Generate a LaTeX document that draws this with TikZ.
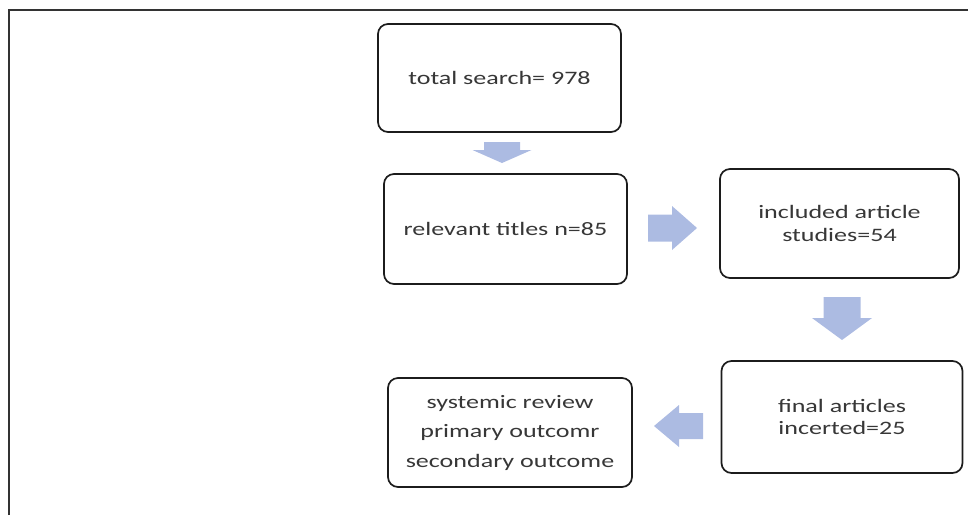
\documentclass[tikz,border=0pt]{standalone}
\usepackage{fontspec}
\setmainfont{Carlito}[FakeStretch=1.37]
\usetikzlibrary{calc}
\definecolor{arrowblue}{RGB}{172,187,226}
\definecolor{boxline}{RGB}{28,28,28}
\definecolor{txt}{RGB}{55,55,55}
\tikzset{
  stepbox/.style={draw=boxline, line width=1.7pt, rounded corners=10pt, fill=white,
    align=center, inner sep=2pt, outer sep=0pt, text=txt,
    font=\fontsize{19}{22.5}\selectfont},
  blockarrow/.style={fill=arrowblue, draw=none},
  frameline/.style={draw=black!80, line width=2pt}
}
\begin{document}
\begin{tikzpicture}[x=1pt, y=-1pt]
\useasboundingbox (0,0) rectangle (968,515);
\draw[frameline] (9,515) -- (9,10) -- (968,10);

\node[stepbox, minimum width=243pt, minimum height=108pt] (n1) at (499.5,78) {total search= 978};
\node[stepbox, minimum width=243pt, minimum height=110pt] (n2) at (505.5,229) {relevant titles n=85};
\node[stepbox, minimum width=239pt, minimum height=109pt] (n3) at (839.5,223.5) {included article\\studies=54};
\node[stepbox, minimum width=241pt, minimum height=112pt] (n4) at (842,417) {final articles\\incerted=25};
\node[stepbox, minimum width=244pt, minimum height=109pt] (n5) at (510,432.5) {systemic review\\[7pt]primary outcomr\\[7pt]secondary outcome};

% block arrows
\coordinate (a1) at (502,142);
\coordinate (a2) at (648,228);
\coordinate (a3) at (842,297);
\coordinate (a4) at (703,426);

\fill[blockarrow, shift={(a1)}] (-18,0) -- (18,0) -- (18,8) -- (29.5,8) -- (0,21) -- (-29.5,8) -- (-18,8) -- cycle;
\fill[blockarrow, shift={(a2)}] (0,-13.5) -- (24,-13.5) -- (24,-22) -- (49,0) -- (24,22) -- (24,13.5) -- (0,13.5) -- cycle;
\fill[blockarrow, shift={(a3)}] (-18.5,0) -- (18.5,0) -- (18.5,21) -- (30,21) -- (0,43) -- (-30,21) -- (-18.5,21) -- cycle;
\fill[blockarrow, shift={(a4)}] (0,-13) -- (-24,-13) -- (-24,-21) -- (-49,0) -- (-24,21) -- (-24,13) -- (0,13) -- cycle;
\end{tikzpicture}
\end{document}
